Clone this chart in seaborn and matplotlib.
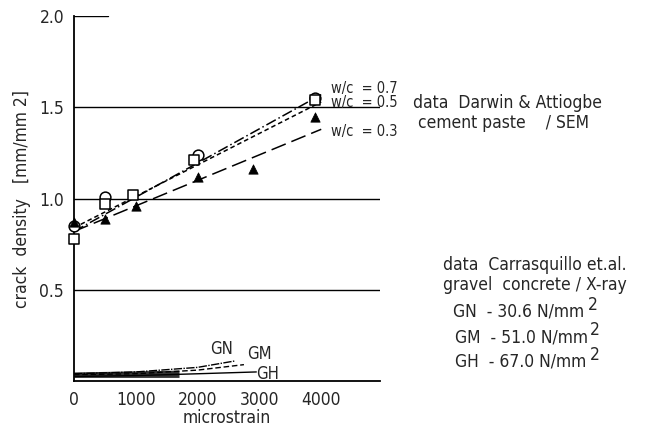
import matplotlib
matplotlib.use("Agg")
import matplotlib.pyplot as plt
import seaborn as sns
import pandas as pd
import numpy as np

# ---- data ----
circ_x = [0, 500, 2000, 3900]
circ_y = [0.85, 1.01, 1.24, 1.55]
sq_x = [0, 500, 950, 1950, 3900]
sq_y = [0.78, 0.97, 1.02, 1.21, 1.54]
tri_x = [0, 500, 1000, 2000, 2900, 3900]
tri_y = [0.87, 0.89, 0.96, 1.12, 1.16, 1.45]

fit_x = [0, 4000]
fit07_y = [0.82, 1.57]
fit05_y = [0.84, 1.53]
fit03_y = [0.82, 1.38]

gn_x = [0, 1000, 2000, 2600]
gn_y = [0.04, 0.05, 0.075, 0.11]
gm_x = [0, 1000, 2000, 2750]
gm_y = [0.035, 0.04, 0.06, 0.09]
gh_x = [0, 1000, 2000, 2950]
gh_y = [0.025, 0.03, 0.04, 0.05]

y_ticks = [0.5, 1.0, 1.5, 2.0]
y_tick_labels = ["0.5", "1.0", "1.5", "2.0"]
x_ticks = [0, 1000, 2000, 3000, 4000]
x_tick_labels = ["0", "1000", "2000", "3000", "4000"]

sns.set_style("white")
plt.rcParams["font.family"] = ["DejaVu Sans"]
plt.rcParams["font.stretch"] = "condensed"

fig = plt.figure(figsize=(6.54, 4.37), dpi=100)
ax = fig.add_axes([0.113, 0.128, 0.468, 0.835])

# grid lines
for yv in [0.5, 1.0, 1.5]:
    ax.axhline(yv, color="black", lw=1.0, zorder=0)
ax.plot([0, 550], [2.0, 2.0], color="black", lw=1.0)

def line(x, y, ls, lw=1.1):
    sns.lineplot(x=x, y=y, ax=ax, color="black", lw=lw, linestyle=ls, legend=False)

line(fit_x, fit07_y, (0, (7, 2, 1, 2)))
line(fit_x, fit05_y, (0, (3, 2)))
line(fit_x, fit03_y, (0, (10, 4)))
line(gn_x, gn_y, (0, (6, 1, 1, 1)), 1.0)
line(gm_x, gm_y, (0, (4, 2)), 1.0)
line(gh_x, gh_y, "-", 1.0)
ax.fill_between([0, 1700], [0.02, 0.02], [0.05, 0.06], color="black", lw=0, alpha=0.8)

kw = dict(ax=ax, clip_on=False, zorder=5)
sns.scatterplot(x=circ_x, y=circ_y, marker="o", s=60, facecolor="white",
                edgecolor="black", linewidth=1.1, **kw)
sns.scatterplot(x=sq_x, y=sq_y, marker="s", s=45, facecolor="white",
                edgecolor="black", linewidth=1.1, **kw)
sns.scatterplot(x=tri_x, y=tri_y, marker="^", s=45, color="black",
                edgecolor="black", **kw)

ax.set_xlim(0, 4950)
ax.set_ylim(0, 2.0)
ax.set_yticks(y_ticks)
ax.set_yticklabels(y_tick_labels, fontsize=12.5)
ax.set_xticks(x_ticks)
ax.set_xticklabels(x_tick_labels, fontsize=12.5)
ax.tick_params(axis="x", direction="inout", length=10, width=1.0, pad=2)
ax.tick_params(axis="y", direction="out", length=5, width=1.0, pad=2)
for s in ["top", "right"]:
    ax.spines[s].set_visible(False)
for s in ["left", "bottom"]:
    ax.spines[s].set_color("black")
    ax.spines[s].set_linewidth(1.3)

ax.set_xlabel("microstrain", fontsize=12.5, labelpad=0)
ax.set_ylabel("crack  density   [mm/mm 2]", fontsize=12.5, labelpad=6)

# labels in data coordinates
ax.text(4150, 1.605, "w/c  = 0.7", fontsize=10.5, va="center", clip_on=False)
ax.text(4150, 1.525, "w/c  = 0.5", fontsize=10.5, va="center", clip_on=False)
ax.text(4150, 1.37, "w/c  = 0.3", fontsize=10.5, va="center", clip_on=False)
ax.text(2200, 0.175, "GN", fontsize=12, va="center")
ax.text(2800, 0.15, "GM", fontsize=12, va="center")
ax.text(2950, 0.04, "GH", fontsize=12, va="center")

# annotation block on the right (figure coordinates)
def ft(x, y, s, size=12.5):
    fig.text(x / 654, 1 - y / 437, s, fontsize=size, va="center", ha="left")

ft(413, 103, "data  Darwin & Attiogbe")
ft(418, 123, "cement paste    / SEM")
ft(443, 265, "data  Carrasquillo et.al.")
ft(443, 285, "gravel  concrete / X-ray")
ft(453, 312, "GN  - 30.6 N/mm")
ft(455, 337, "GM  - 51.0 N/mm")
ft(455, 362, "GH  - 67.0 N/mm")
ft(588, 305, "2")
ft(590, 330, "2")
ft(590, 355, "2")

fig.savefig("out.png", dpi=100)
